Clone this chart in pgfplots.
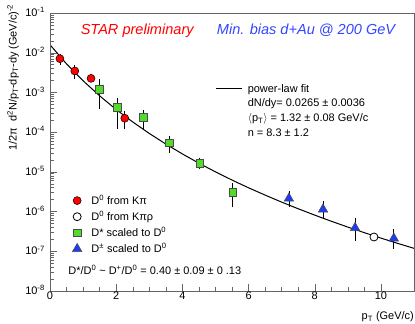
\documentclass[border=0pt]{standalone}
\usepackage{fontspec}
\setmainfont{Liberation Sans}
\usepackage{pgfplots}
\pgfplotsset{compat=1.18}
\definecolor{starred}{RGB}{255,0,0}
\definecolor{starblue}{RGB}{50,70,255}
\definecolor{dgreen}{RGB}{80,220,40}
\definecolor{dblue}{RGB}{30,60,240}
\definecolor{axgray}{RGB}{100,100,100}
\newcommand{\lbl}{\fontsize{11}{13}\selectfont}
\pgfplotsset{
  ebar/.style={
    error bars/.cd, y dir=both, y explicit,
    error bar style={black, line width=0.8bp},
    error mark options={black, mark size=1.2bp, line width=0.8bp},
  },
}

\begin{document}
\begin{tikzpicture}
% power-law fit and its legend
\begin{axis}[ymode=log, width=364bp, height=278bp, scale only axis,
  xmin=0, xmax=11, ymin=1e-8, ymax=1e-1, hide axis,
  legend style={at={(axis description cs:0.453,0.752)}, anchor=north west,
    draw=none, fill=none, inner sep=0pt, row sep=1.4bp, column sep=3.7bp,
    font=\lbl},
  legend cell align=left,
  legend image code/.code={\draw[#1] (0bp,0bp) -- (26bp,0bp);},
]
\addplot[black, line width=1bp] coordinates {
  (0,1.585e-2) (0.5,5.23e-3) (1,1.967e-3) (1.5,8.21e-4) (2,3.71e-4)
  (2.5,1.806e-4) (3,9.28e-5) (3.5,5.02e-5) (4,2.83e-5) (4.5,1.654e-5)
  (5,1.0e-5) (5.5,6.22e-6) (6,3.97e-6) (6.5,2.60e-6) (7,1.732e-6)
  (7.5,1.178e-6) (8,8.14e-7) (8.5,5.71e-7) (9,4.07e-7) (9.5,2.94e-7)
  (10,2.15e-7) (10.5,1.588e-7) (11,1.187e-7)
};
\addlegendentry{power-law fit}
\addlegendimage{empty legend}
\addlegendentry{dN/dy= 0.0265 ± 0.0036}
\addlegendimage{empty legend}
\addlegendentry{$\langle$p\textsubscript{T}$\rangle$ = 1.32 ± 0.08 GeV/c}
\addlegendimage{empty legend}
\addlegendentry{n = 8.3 ± 1.2}
\end{axis}

\begin{axis}[ymode=log, width=364bp, height=278bp, scale only axis,
  xmin=0, xmax=11, ymin=1e-8, ymax=1e-1, name=ax,
  axis line style={axgray},
  tick align=inside, tick pos=left,
  major tick length=7bp, minor tick length=4bp,
  every tick/.style={axgray},
  xtick={0,2,4,6,8,10}, minor x tick num=3,
  ytick={1e-8,1e-7,1e-6,1e-5,1e-4,1e-3,1e-2,1e-1},
  yticklabels={10\textsuperscript{-8},10\textsuperscript{-7},10\textsuperscript{-6},
    10\textsuperscript{-5},10\textsuperscript{-4},10\textsuperscript{-3},
    10\textsuperscript{-2},10\textsuperscript{-1}},
  /pgf/number format/assume math mode=true,
  ticklabel style={font=\lbl},
  xticklabel style={inner sep=1bp},
  yticklabel style={anchor=base east, yshift=-3.7bp, inner sep=1bp, xshift=-4bp},
  xlabel={p\textsubscript{T} (GeV/c)},
  xlabel style={font=\lbl, at={(axis description cs:1,-0.104)}, anchor=base east, inner sep=0pt},
  ylabel={1/2π\ \ d\textsuperscript{2}N/p\textsubscript{T}-dp\textsubscript{T}-dy (GeV/c)\textsuperscript{-2}},
  ylabel style={font=\lbl, at={(axis description cs:-0.085,1.032)}, anchor=south east, inner sep=0pt},
  legend style={at={(axis description cs:0.061,0.3525)}, anchor=north west,
    draw=none, fill=none, inner sep=0pt, row sep=1.3bp, column sep=7.5bp,
    font=\lbl},
  legend cell align=left,
]
% D0 from K pi
\addplot[only marks, mark=*, mark size=4bp, mark options={fill=starred, draw=black, line width=0.5bp}, ebar]
coordinates {
  (0.30,7.08e-3) += (0,1.63e-3) -= (0,1.83e-3)
  (0.75,3.47e-3) += (0,1.00e-3) -= (0,1.07e-3)
  (1.24,2.26e-3) += (0,0.20e-3) -= (0,0.20e-3)
  (2.26,2.24e-4) += (0,0.92e-4) -= (0,0.98e-4)
};
\addlegendentry{D\textsuperscript{0} from Kπ}
% D0 from K pi rho
\addplot[only marks, mark=*, mark size=4bp, mark options={fill=white, draw=black, line width=0.8bp}]
coordinates {(9.79,2.29e-7)};
\addlegendentry{D\textsuperscript{0} from Kπρ}
% D* scaled
\addplot[only marks, mark=square*, mark size=3.8bp, mark options={fill=dgreen, draw=black!70, line width=0.5bp}, ebar]
coordinates {
  (1.49,1.22e-3) += (0,0.78e-3) -= (0,0.81e-3)
  (2.04,4.22e-4) += (0,2.70e-4) -= (0,2.90e-4)
  (2.82,2.34e-4) += (0,1.05e-4) -= (0,1.05e-4)
  (3.60,5.37e-5) += (0,2.20e-5) -= (0,2.10e-5)
  (4.52,1.64e-5) += (0,0.45e-5) -= (0,0.38e-5)
  (5.52,3.09e-6) += (0,1.70e-6) -= (0,1.71e-6)
};
\addlegendentry{D* scaled to D\textsuperscript{0}}
% D+- scaled
\addplot[only marks, mark=triangle*, mark size=5.5bp, mark options={fill=dblue, draw=black!70, line width=0.5bp}, ebar]
coordinates {
  (7.22,2.14e-6) += (0,1.00e-6) -= (0,0.76e-6)
  (8.25,1.135e-6) += (0,0.565e-6) -= (0,0.43e-6)
  (9.22,3.89e-7) += (0,2.40e-7) -= (0,1.90e-7)
  (10.39,2.11e-7) += (0,1.20e-7) -= (0,0.85e-7)
};
\addlegendentry{D\textsuperscript{±} scaled to D\textsuperscript{0}}

\node[anchor=base west, inner sep=0pt, font=\fontsize{14.6}{17}\selectfont\itshape, text=starred]
  at (axis description cs:0.084,0.9227) {STAR preliminary};
\node[anchor=base west, inner sep=0pt, font=\fontsize{14.6}{17}\selectfont\itshape, text=starblue]
  at (axis description cs:0.458,0.9227) {Min. bias d+Au @ 200 GeV};
\node[anchor=base west, inner sep=0pt, font=\lbl]
  at (axis description cs:0.050,0.059)
  {D*/D\textsuperscript{0} \textasciitilde{} D\textsuperscript{+}/D\textsuperscript{0} = 0.40 ± 0.09 ± 0 .13};
\end{axis}
\pgfresetboundingbox
\path[use as bounding box] ([shift={(-50bp,-33bp)}]ax.south west) rectangle ([shift={(1bp,13bp)}]ax.north east);
\end{tikzpicture}
\end{document}
